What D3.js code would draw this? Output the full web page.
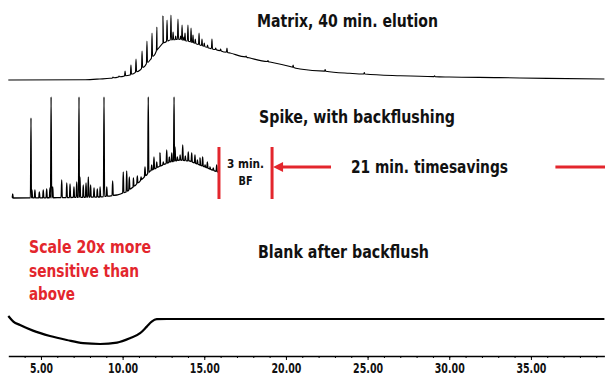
<!DOCTYPE html>
<html>
<head>
<meta charset="utf-8">
<script src="https://cdn.jsdelivr.net/npm/d3@7"></script>
<style>
  html, body { margin: 0; padding: 0; background: #fff; }
  svg { display: block; }
  text { font-family: "Liberation Sans Narrow", "DejaVu Sans Condensed", "Roboto Condensed", sans-serif; font-weight: bold; }
</style>
</head>
<body>
<svg id="chromatogram" width="605" height="375"></svg>
<script>
// retention time axis (min)
const timeTicks = [5, 10, 15, 20, 25, 30, 35];
const minorTicks = d3.range(4, 40);

// matrix run, 40 min elution: hump baseline + resolved peaks (apex response)
const matrixBaseTime = [3.0, 7.7, 8.6, 9.23, 10.45, 11.07, 11.68, 12.11, 12.47, 12.9, 13.51, 14.13, 14.74, 15.35, 16.58, 17.8, 19.02, 20.25, 20.86, 23.9, 27.0, 30.0, 33.0, 36.0, 39.5];
const matrixBaseResp = [0, 0.3, 1, 1.7, 5, 10, 20, 30, 37, 40, 40.7, 38.3, 35, 31.7, 27, 22, 18, 13.5, 11, 6.7, 4.2, 3, 2.4, 1.6, 1];
const matrixPeakTime = [9.41, 9.78, 10.15, 10.51, 10.82, 11.19, 11.49, 11.8, 12.1, 12.47, 12.72, 12.96, 13.09, 13.25, 13.39, 13.55, 13.64, 13.75, 13.82, 14.0, 14.19, 14.31, 14.45, 14.68, 14.86, 15.0, 15.2, 15.47, 15.7, 16.0, 16.39, 17.56, 18.9, 20.44, 22.4, 24.8, 29.1];
const matrixPeakResp = [3, 4, 9, 15, 21, 29, 39, 47, 53, 64, 60, 65, 48, 44, 61, 44, 55, 43, 47, 55, 52, 45, 41, 47, 41, 37, 35, 41, 32, 31, 32, 24, 19.5, 15, 10.5, 7.5, 4.3];

// spiked sample with backflushing (run stopped at BF start)
const spikeBaseTime = [3.23, 6.0, 8.6, 9.65, 10.2, 10.64, 11.2, 11.68, 12.29, 12.9, 13.5, 14.1, 14.74, 15.35, 15.84];
const spikeBaseResp = [0, 0.3, 1, 3, 6, 11, 19, 27, 32, 36, 38, 37, 33, 29, 26];
const spikePeakTime = [3.27, 4.39, 4.45, 4.63, 4.9, 5.14, 5.35, 5.55, 5.62, 5.72, 6.27, 6.58, 6.78, 7.02, 7.19, 7.33, 7.39, 7.59, 7.76, 7.9, 8.04, 8.25, 8.45, 8.62, 8.86, 9.03, 9.39, 10.04, 10.25, 10.41, 10.66, 10.9, 11.13, 11.37, 11.57, 11.78, 11.92, 12.09, 12.29, 12.49, 12.7, 12.86, 13.01, 13.15, 13.21, 13.35, 13.52, 13.68, 13.84, 14.02, 14.23, 14.43, 14.58, 14.74, 14.9, 15.05, 15.19, 15.35, 15.55, 15.76];
const spikePeakResp = [4, 80, 8, 8, 6, 8, 9, 10, 101, 11, 18, 15, 14, 11, 16, 101, 21, 13, 15, 21, 13, 10, 9, 11, 101, 11, 17, 26, 27, 21, 20, 22, 21, 31, 101, 33, 41, 36, 45, 36, 48, 41, 45, 101, 51, 41, 43, 53, 42, 46, 45, 43, 38, 40, 41, 33, 36, 31, 30, 33];

// blank after backflush, 20x scale
const blankTime = [3.0, 3.31, 3.72, 4.51, 5.55, 6.58, 7.58, 8.62, 9.66, 10.45, 11.07, 11.48, 11.78, 12.09, 12.7, 39.5];
const blankResp = [1.4, 1.12, 0.95, 0.67, 0.4, 0.2, 0.04, 0, 0.07, 0.29, 0.54, 0.87, 1.12, 1.24, 1.25, 1.25];

// backflush window and time-savings arrow (min)
const bfWindow = [15.9, 19.15];
const savingsArrow = [22.76, 36.5, 39.5];

const red = '#e3262d';
const svg = d3.select('#chromatogram');

const x = d3.scaleLinear().domain([3, 39.5]).range([8.3, 604.4]);
const yMatrix = d3.scaleLinear().domain([0, 65]).range([80, 15]);
const ySpike = d3.scaleLinear().domain([0, 101]).range([198, 97]);
const yBlank = d3.scaleLinear().domain([0, 1.25]).range([344, 319]);

function traceData(baseT, baseR, peakT, peakR) {
  const base = d3.scaleLinear().domain(baseT).range(baseR).clamp(true);
  const pts = baseT.map((t, i) => [t, baseR[i]]);
  const w = 0.035;
  peakT.forEach((t, i) => {
    pts.push([t - w, base(t - w)], [t, peakR[i]], [t + w, base(t + w)]);
  });
  return pts.sort((a, b) => a[0] - b[0]);
}

function drawTrace(pts, yScale, width) {
  const line = d3.line()
    .x(d => x(d[0]))
    .y(d => yScale(d[1]))
    .curve(d3.curveMonotoneX);
  svg.append('path')
    .datum(pts)
    .attr('fill', 'none')
    .attr('stroke', '#000')
    .attr('stroke-width', width)
    .attr('stroke-linejoin', 'round')
    .attr('d', line);
}

drawTrace(traceData(matrixBaseTime, matrixBaseResp, matrixPeakTime, matrixPeakResp), yMatrix, 1.1);
drawTrace(traceData(spikeBaseTime, spikeBaseResp, spikePeakTime, spikePeakResp), ySpike, 1.3);
drawTrace(blankTime.map((t, i) => [t, blankResp[i]]), yBlank, 2.2);

// time axis with minor ticks
const axisG = svg.append('g').attr('transform', 'translate(0,356)');
axisG.append('g')
  .call(d3.axisBottom(x).tickValues(minorTicks).tickSize(2).tickSizeOuter(0).tickFormat(''))
  .call(g => g.select('.domain').remove());
axisG.append('g')
  .call(d3.axisBottom(x).tickValues(timeTicks).tickSize(4).tickSizeOuter(0).tickFormat(d3.format('.2f')))
  .call(g => g.select('.domain').attr('stroke-width', 1.4))
  .call(g => g.selectAll('text')
    .attr('y', 7)
    .attr('fill', '#111')
    .attr('textLength', d => d < 10 ? 23 : 30)
    .attr('lengthAdjust', 'spacingAndGlyphs')
    .style('font-size', '14px')
    .style('font-family', null));

// backflush markers
const bfY = [147, 199];
svg.selectAll('.bf-line')
  .data(bfWindow)
  .join('line')
  .attr('class', 'bf-line')
  .attr('x1', d => x(d)).attr('x2', d => x(d))
  .attr('y1', bfY[0]).attr('y2', bfY[1])
  .attr('stroke', red)
  .attr('stroke-width', 3);

const arrowY = 167;
const tip = x(bfWindow[1]) + 1;
svg.append('line')
  .attr('x1', tip + 9).attr('x2', x(savingsArrow[0]))
  .attr('y1', arrowY).attr('y2', arrowY)
  .attr('stroke', red).attr('stroke-width', 3);
svg.append('path')
  .attr('d', `M${tip},${arrowY}L${tip + 10},${arrowY - 5}L${tip + 10},${arrowY + 5}Z`)
  .attr('fill', red);
svg.append('line')
  .attr('x1', x(savingsArrow[1])).attr('x2', x(savingsArrow[2]) + 2)
  .attr('y1', arrowY).attr('y2', arrowY)
  .attr('stroke', red).attr('stroke-width', 3);

// labels, squeezed to the condensed face of the original
const bfMid = (x(bfWindow[0]) + x(bfWindow[1])) / 2;
const labels = [
  { text: 'Matrix, 40 min. elution', x: 257, y: 27, size: 17, len: 181, fill: '#111' },
  { text: 'Spike, with backflushing', x: 259, y: 123, size: 17, len: 196, fill: '#111' },
  { text: '21 min. timesavings', x: 351, y: 173, size: 17, len: 157, fill: '#111' },
  { text: 'Blank after backflush', x: 258, y: 258, size: 17, len: 171, fill: '#111' },
  { text: '3 min.', x: bfMid - 18.5, y: 168, size: 13, len: 37, fill: '#111' },
  { text: 'BF', x: bfMid - 7, y: 185, size: 13, len: 14, fill: '#111' },
  { text: 'Scale 20x more', x: 29, y: 253, size: 18, len: 122, fill: red },
  { text: 'sensitive than', x: 29, y: 276.5, size: 18, len: 110, fill: red },
  { text: 'above', x: 29, y: 300, size: 18, len: 46, fill: red }
];
svg.selectAll('.label')
  .data(labels)
  .join('text')
  .attr('class', 'label')
  .attr('x', d => d.x)
  .attr('y', d => d.y)
  .attr('fill', d => d.fill)
  .attr('textLength', d => d.len)
  .attr('lengthAdjust', 'spacingAndGlyphs')
  .style('font-size', d => d.size + 'px')
  .text(d => d.text);
</script>
</body>
</html>
